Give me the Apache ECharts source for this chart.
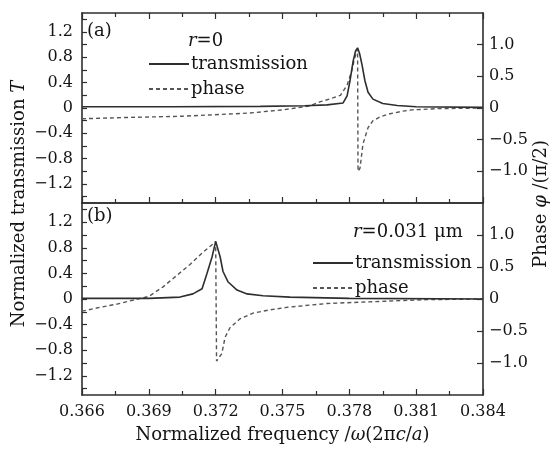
<!DOCTYPE html>
<html>
<head>
<meta charset="utf-8">
<script src="https://cdn.jsdelivr.net/npm/echarts@6/dist/echarts.min.js"></script>
<style>
  html, body { margin: 0; padding: 0; background: #fff; }
  #chart { width: 553px; height: 451px; }
</style>
</head>
<body>
<div id="chart"></div>
<script>
// x axis ticks (normalized frequency)
const freqMin = 0.366
const freqMax = 0.384
const freqStep = 0.003

// tick labels
const leftTicks = [-1.2, -0.8, -0.4, 0, 0.4, 0.8, 1.2]
const leftMinor = [-1.4, -1.2, -1.0, -0.8, -0.6, -0.4, -0.2, 0, 0.2, 0.4, 0.6, 0.8, 1.0, 1.2, 1.4]
const rightTicks = [-1.0, -0.5, 0, 0.5, 1.0]

// (a) r = 0 : [frequency, value]
const transA = [
  [0.366, 0.02], [0.370, 0.02], [0.374, 0.025], [0.376, 0.035], [0.3770, 0.05],
  [0.37772, 0.08], [0.3779, 0.19], [0.37803, 0.43], [0.37817, 0.74], [0.37828, 0.9],
  [0.37837, 0.95], [0.37846, 0.86], [0.37857, 0.68], [0.3787, 0.43], [0.37884, 0.25],
  [0.37906, 0.14], [0.3795, 0.07], [0.38015, 0.04], [0.381, 0.02], [0.384, 0.01]
]
const phaseA = [
  [0.366, -0.17], [0.368, -0.15], [0.3705, -0.13], [0.3735, -0.08], [0.375, -0.03],
  [0.3762, 0.03], [0.3767, 0.1], [0.3771, 0.14], [0.3776, 0.2], [0.3779, 0.36],
  [0.3781, 0.58], [0.37825, 0.8], [0.37837, 0.93], [0.37839, -1.0], [0.37848, -0.95],
  [0.37861, -0.57], [0.37884, -0.31], [0.37906, -0.2], [0.37938, -0.14], [0.37983, -0.09],
  [0.38041, -0.05], [0.3808, -0.03], [0.382, -0.01], [0.384, 0.0]
]

// (b) r = 0.031 um
const transB = [
  [0.366, 0.01], [0.369, 0.01], [0.3704, 0.03], [0.37098, 0.08], [0.37139, 0.16],
  [0.37161, 0.4], [0.37184, 0.66], [0.372, 0.9], [0.3722, 0.66], [0.37233, 0.43],
  [0.37255, 0.27], [0.37296, 0.14], [0.37341, 0.08], [0.37413, 0.05], [0.37534, 0.03],
  [0.378, 0.01], [0.384, 0.0]
]
const phaseB = [
  [0.366, -0.19], [0.36681, -0.13], [0.36757, -0.08], [0.36815, -0.03], [0.3690, 0.04],
  [0.36964, 0.19], [0.37026, 0.37], [0.37085, 0.54], [0.37143, 0.73], [0.37188, 0.86],
  [0.37200, 0.9], [0.37204, -0.97], [0.37228, -0.85], [0.37242, -0.6], [0.37264, -0.45],
  [0.37309, -0.31], [0.37368, -0.22], [0.37444, -0.17], [0.3752, -0.13], [0.377, -0.07],
  [0.3785, -0.05], [0.3807, -0.02], [0.3815, -0.01], [0.384, 0.0]
]

const FONT = 'DejaVu Serif'
const INK = '#141414'
const LINE = '#2e2e2e'

const fmtMinus = v => (Math.abs(v) < 1e-9 ? '0' : String(v).replace('-', '\u2212'))

const xAxisBase = (grid, pos, labels) => ({
  type: 'value',
  gridIndex: grid,
  position: pos,
  min: freqMin,
  max: freqMax,
  interval: freqStep,
  axisLine: { show: true, onZero: false, lineStyle: { color: LINE, width: 1.6 } },
  axisTick: { show: true, inside: true, length: 6, lineStyle: { color: LINE, width: 1.2 } },
  minorTick: { show: true, splitNumber: 2, length: 4, lineStyle: { color: LINE, width: 1.2 } },
  splitLine: { show: false },
  axisLabel: {
    show: labels,
    margin: 9,
    color: INK,
    fontFamily: FONT,
    fontSize: 16,
    formatter: v => v.toFixed(3)
  }
})

const leftAxis = grid => ({
  type: 'value',
  gridIndex: grid,
  position: 'left',
  min: -1.5,
  max: 1.5,
  axisLine: { show: true, onZero: false, lineStyle: { color: LINE, width: 1.6 } },
  axisTick: { show: true, inside: true, length: 5, customValues: leftMinor, lineStyle: { color: LINE, width: 1.2 } },
  splitLine: { show: false },
  axisLabel: {
    customValues: leftTicks,
    margin: 9,
    color: INK,
    fontFamily: FONT,
    fontSize: 16,
    formatter: fmtMinus
  }
})

const rightAxis = grid => ({
  type: 'value',
  gridIndex: grid,
  position: 'right',
  min: -1.5,
  max: 1.5,
  axisLine: { show: true, onZero: false, lineStyle: { color: LINE, width: 1.6 } },
  axisTick: { show: true, inside: true, length: 6, customValues: rightTicks, lineStyle: { color: LINE, width: 1.2 } },
  splitLine: { show: false },
  axisLabel: {
    customValues: rightTicks,
    margin: 6,
    color: INK,
    fontFamily: FONT,
    fontSize: 16,
    formatter: v => (Math.abs(v) < 1e-9 ? '0' : fmtMinus(v.toFixed(1)))
  }
})

const solid = { color: LINE, width: 1.6, type: 'solid' }
const dashed = { color: '#555', width: 1.4, type: [4, 3] }

const legendStyle = (left, top) => ({
  orient: 'vertical',
  left: left,
  top: top,
  itemWidth: 40,
  itemHeight: 14,
  itemGap: 5,
  padding: 0,
  selectedMode: false,
  itemStyle: { opacity: 0 },
  data: ['transmission', 'phase'],
  textStyle: { fontFamily: FONT, fontSize: 18, color: INK, lineHeight: 20, padding: [0, 0, 0, -3] }
})

const chart = echarts.init(document.getElementById('chart'))

const option = {
  animation: false,
  backgroundColor: '#fff',
  grid: [
    { left: 82, top: 13, width: 401, height: 190 },
    { left: 82, top: 203, width: 401, height: 192 }
  ],
  xAxis: [
    xAxisBase(0, 'bottom', false),
    xAxisBase(0, 'top', false),
    Object.assign(xAxisBase(1, 'bottom', true), {
      name: '{n|Normalized frequency /}{i|\u03c9}{n|(2\u03c0}{i|c}{n|/}{i|a}{n|)}',
      nameLocation: 'middle',
      nameGap: 31,
      nameTextStyle: {
        rich: {
          n: { fontFamily: FONT, fontSize: 18, color: INK },
          i: { fontFamily: FONT, fontSize: 18, color: INK, fontStyle: 'italic' }
        }
      }
    }),
    Object.assign(xAxisBase(1, 'top', false), { axisTick: { show: false }, minorTick: { show: false } })
  ],
  yAxis: [leftAxis(0), rightAxis(0), leftAxis(1), rightAxis(1)],
  legend: [legendStyle(148, 54), legendStyle(312, 253)],
  series: [
    { name: 'transmission', type: 'line', xAxisIndex: 0, yAxisIndex: 0, data: transA, symbol: 'none', lineStyle: solid, itemStyle: { color: LINE }, z: 3 },
    { name: 'phase', type: 'line', xAxisIndex: 0, yAxisIndex: 1, data: phaseA, symbol: 'none', lineStyle: dashed, itemStyle: { color: '#555' }, z: 2 },
    { name: 'transmission', type: 'line', xAxisIndex: 2, yAxisIndex: 2, data: transB, symbol: 'none', lineStyle: solid, itemStyle: { color: LINE }, z: 3 },
    { name: 'phase', type: 'line', xAxisIndex: 2, yAxisIndex: 3, data: phaseB, symbol: 'none', lineStyle: dashed, itemStyle: { color: '#555' }, z: 2 }
  ],
  graphic: [
    { type: 'text', left: 87, top: 22, style: { text: '(a)', fontFamily: FONT, fontSize: 18, fill: INK } },
    { type: 'text', left: 87, top: 207, style: { text: '(b)', fontFamily: FONT, fontSize: 18, fill: INK } },
    {
      type: 'text', left: 188, top: 32,
      style: {
        text: '{i|r}{n|=0}',
        rich: {
          n: { fontFamily: FONT, fontSize: 18, fill: INK },
          i: { fontFamily: FONT, fontSize: 18, fill: INK, fontStyle: 'italic' }
        }
      }
    },
    {
      type: 'text', left: 353, top: 223,
      style: {
        text: '{i|r}{n|=0.031 \u03bcm}',
        rich: {
          n: { fontFamily: FONT, fontSize: 18, fill: INK },
          i: { fontFamily: FONT, fontSize: 18, fill: INK, fontStyle: 'italic' }
        }
      }
    },
    {
      type: 'text', x: 19, y: 204, rotation: Math.PI / 2,
      style: {
        text: '{n|Normalized transmission }{i|T}',
        align: 'center', verticalAlign: 'middle',
        rich: {
          n: { fontFamily: FONT, fontSize: 18, fill: INK },
          i: { fontFamily: FONT, fontSize: 18, fill: INK, fontStyle: 'italic' }
        }
      }
    },
    {
      type: 'text', x: 541, y: 204, rotation: Math.PI / 2,
      style: {
        text: '{n|Phase }{i|\u03c6}{n| /(\u03c0/2)}',
        align: 'center', verticalAlign: 'middle',
        rich: {
          n: { fontFamily: FONT, fontSize: 18, fill: INK },
          i: { fontFamily: FONT, fontSize: 18, fill: INK, fontStyle: 'italic' }
        }
      }
    }
  ]
}

chart.setOption(option)
</script>
</body>
</html>
